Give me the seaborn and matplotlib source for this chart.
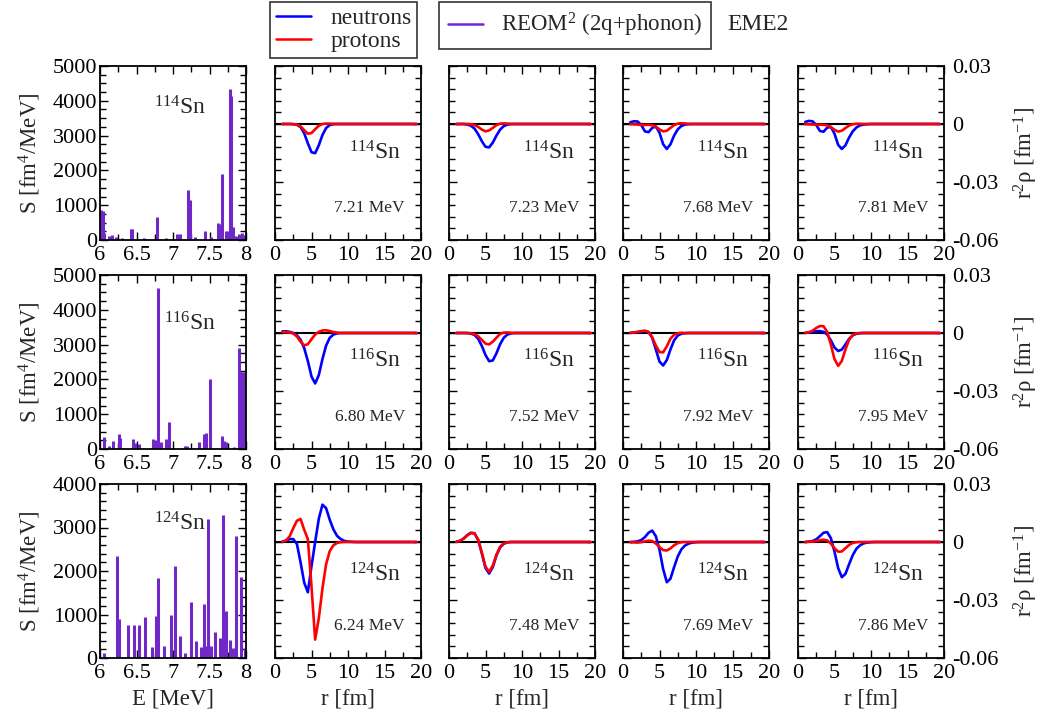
import numpy as np
import matplotlib
matplotlib.use("Agg")
import matplotlib.pyplot as plt
from matplotlib.ticker import MultipleLocator
from matplotlib.lines import Line2D
import seaborn as sns

sns.set_theme(style="ticks")
plt.rcParams['font.family'] = ['Liberation Serif', 'DejaVu Serif']
plt.rcParams['mathtext.fontset'] = 'custom'
plt.rcParams['mathtext.rm'] = 'Liberation Serif'
plt.rcParams['mathtext.it'] = 'Liberation Serif:italic'
plt.rcParams['mathtext.bf'] = 'Liberation Serif:bold'

# ---------------- data ----------------
nuclei = ["114", "116", "124"]
spec_ymax = [5000, 5000, 4000]
spec_yminor = [250, 250, 200]

# strength spectra (E in MeV, S in fm^4/MeV)
E_114 = [6.02, 6.04, 6.06, 6.12, 6.17, 6.22, 6.30, 6.42, 6.44, 6.60, 6.78, 6.90, 7.06, 7.09,
         7.20, 7.23, 7.30, 7.44, 7.52, 7.61, 7.63, 7.67, 7.72, 7.75, 7.785, 7.80, 7.82, 7.86,
         7.90, 7.94, 7.97]
S_114 = [850, 820, 200, 120, 150, 80, 60, 320, 320, 50, 650, 60, 170, 160,
         1450, 1150, 80, 250, 100, 480, 450, 1900, 270, 250, 4350, 4150, 370, 120,
         170, 200, 150]
E_116 = [6.06, 6.12, 6.18, 6.26, 6.28, 6.45, 6.48, 6.54, 6.73, 6.75, 6.79, 6.84, 6.90, 6.94,
         7.16, 7.19, 7.35, 7.43, 7.45, 7.51, 7.67, 7.70, 7.72, 7.84, 7.905, 7.93, 7.95, 7.97]
S_116 = [340, 80, 240, 430, 330, 290, 180, 150, 290, 250, 4640, 190, 290, 770,
         100, 80, 190, 430, 470, 2020, 365, 220, 200, 60, 2890, 2200, 2210, 2200]
E_124 = [6.06, 6.23, 6.26, 6.38, 6.46, 6.54, 6.62, 6.71, 6.77, 6.79, 6.88, 6.97, 7.03, 7.10,
         7.17, 7.24, 7.31, 7.38, 7.42, 7.45, 7.48, 7.52, 7.58, 7.65, 7.69, 7.73, 7.78, 7.82,
         7.86, 7.93, 7.99]
S_124 = [115, 2350, 900, 770, 750, 750, 940, 250, 960, 1830, 270, 1000, 2110, 500,
         115, 1280, 385, 250, 1250, 270, 3190, 270, 600, 460, 3290, 1080, 420, 230,
         2800, 1860, 230]
spectra = [(E_114, S_114), (E_116, S_116), (E_124, S_124)]

# transition densities r^2 rho (units 1e-3 fm^-1) on radial grid (fm)
r_grid = [1.0, 1.5, 2.0, 2.5, 3.0, 3.5, 4.0, 4.5, 5.0, 5.5, 6.0, 6.5, 7.0, 7.5, 8.0, 8.5,
          9.0, 9.5, 10.0, 10.5, 11.0, 19.4]

energies = [["7.21", "7.23", "7.68", "7.81"],
            ["6.80", "7.52", "7.92", "7.95"],
            ["6.24", "7.48", "7.69", "7.86"]]

n_114_721 = [0, 0, 0, -0.1, -0.4, -1.6, -4.8, -10.0, -14.6, -15.1, -11.0, -5.7, -2.1, -0.5, -0.1, 0, 0, 0, 0, 0, 0, 0]
p_114_721 = [0, 0, 0, -0.05, -0.3, -1.2, -3.2, -5.0, -4.7, -2.7, -0.9, 0.0, 0.2, 0.2, 0.1, 0, 0, 0, 0, 0, 0, 0]
n_114_723 = [0, 0, 0, -0.25, -0.9, -2.4, -5.3, -8.9, -11.8, -12.1, -9.6, -6.0, -2.9, -1.1, -0.3, -0.1, 0, 0, 0, 0, 0, 0]
p_114_723 = [0, 0, 0, 0, -0.1, -0.5, -1.5, -2.9, -3.8, -3.3, -2.0, -0.6, 0.2, 0.3, 0.2, 0.1, 0, 0, 0, 0, 0, 0]
n_114_768 = [0.9, 1.4, 1.3, -0.5, -3.8, -4.2, -2.0, -1.3, -4.5, -10.5, -12.9, -10.5, -6.0, -2.8, -1.0, -0.3, -0.1, 0, 0, 0, 0, 0]
p_114_768 = [-0.1, -0.2, -0.3, -0.5, -0.5, -0.4, -0.6, -1.4, -2.8, -3.8, -3.5, -2.0, -0.6, 0.2, 0.4, 0.3, 0.1, 0, 0, 0, 0, 0]
n_114_781 = [1.1, 1.6, 1.4, -0.5, -3.6, -4.0, -1.9, -1.5, -5.0, -10.8, -12.9, -11.0, -7.0, -3.8, -1.8, -0.7, -0.3, -0.1, 0, 0, 0, 0]
p_114_781 = [-0.1, -0.2, -0.3, -0.4, -0.4, -0.4, -0.7, -1.6, -3.0, -3.9, -3.5, -2.1, -0.8, -0.1, 0.1, 0.1, 0, 0, 0, 0, 0, 0]

n_116_680 = [0.8, 0.9, 0.6, 0, -1.2, -3.5, -7.8, -14.5, -22.5, -26.1, -21.8, -13.5, -6.5, -2.5, -0.8, -0.2, 0, 0, 0, 0, 0, 0]
p_116_680 = [0.5, 0.5, 0.3, -0.3, -1.8, -4.5, -6.4, -5.8, -3.2, -0.8, 0.6, 1.3, 1.4, 1.0, 0.5, 0.2, 0, 0, 0, 0, 0, 0]
n_116_752 = [0, 0, 0, -0.05, -0.3, -1.0, -3.0, -6.7, -11.4, -14.6, -14.2, -10.5, -5.8, -2.5, -0.8, -0.2, 0, 0, 0, 0, 0, 0]
p_116_752 = [0, 0, 0, 0, -0.1, -0.6, -1.7, -3.6, -5.5, -5.9, -4.5, -2.4, -0.5, 0.2, 0.3, 0.1, 0, 0, 0, 0, 0, 0]
n_116_792 = [0.1, 0.2, 0.4, 0.7, 0.9, 0.5, -2.5, -8.5, -14.8, -16.8, -14.0, -8.5, -3.8, -1.3, -0.4, -0.1, 0, 0, 0, 0, 0, 0]
p_116_792 = [0.1, 0.3, 0.6, 1.0, 1.2, 0.6, -2.2, -6.5, -9.9, -10.0, -6.9, -3.0, -0.9, -0.1, 0.1, 0, 0, 0, 0, 0, 0, 0]
n_116_795 = [0.1, 0.3, 0.6, 0.9, 1.0, 0.6, -0.8, -3.8, -7.5, -9.3, -8.6, -5.9, -3.0, -1.2, -0.4, -0.1, 0, 0, 0, 0, 0, 0]
p_116_795 = [0.1, 0.4, 1.2, 2.6, 3.6, 3.5, 0.5, -6.0, -13.5, -17.0, -14.5, -8.5, -3.5, -1.0, -0.2, 0, 0, 0, 0, 0, 0, 0]

n_124_624 = [0.1, 0.6, 1.5, 1.5, -1.0, -10.5, -21.0, -26.0, -12.5, 0.0, 12.0, 19.3, 17.5, 11.5, 6.5, 3.2, 1.5, 0.6, 0.2, 0.1, 0, 0]
p_124_624 = [0.2, 0.8, 2.9, 7.1, 11.0, 11.9, 6.3, 1.5, -23.0, -50.5, -39.5, -24.0, -11.5, -4.7, -1.7, -0.5, -0.1, 0, 0, 0, 0, 0]
n_124_748 = [0.1, 0.6, 1.8, 3.6, 4.8, 4.5, 1.0, -6.0, -13.5, -16.3, -13.0, -7.0, -2.8, -0.9, -0.2, 0, 0, 0, 0, 0, 0, 0]
p_124_748 = [0.1, 0.6, 1.7, 3.4, 4.6, 4.4, 1.2, -5.5, -12.8, -15.4, -12.2, -6.5, -2.5, -0.7, -0.1, 0, 0, 0, 0, 0, 0, 0]
n_124_769 = [0, 0.1, 0.3, 1.0, 2.5, 4.8, 5.9, 3.0, -4.0, -14.0, -20.8, -19.0, -13.0, -7.5, -3.8, -1.8, -0.8, -0.3, -0.1, 0, 0, 0]
p_124_769 = [-0.1, -0.2, -0.3, -0.1, 0.3, 0.7, 0.5, -0.8, -2.6, -4.2, -4.4, -3.3, -1.7, -0.6, -0.1, 0, 0, 0, 0, 0, 0, 0]
n_124_786 = [0, 0.2, 0.5, 1.4, 3.0, 4.8, 5.1, 2.0, -5.0, -13.5, -18.2, -16.5, -11.5, -6.8, -3.5, -1.7, -0.7, -0.3, -0.1, 0, 0, 0]
p_124_786 = [0, 0.1, 0.2, 0.5, 0.9, 1.2, 0.8, -0.8, -3.2, -5.0, -4.9, -3.2, -1.5, -0.5, -0.1, 0, 0, 0, 0, 0, 0, 0]

densities = [
    [(n_114_721, p_114_721), (n_114_723, p_114_723), (n_114_768, p_114_768), (n_114_781, p_114_781)],
    [(n_116_680, p_116_680), (n_116_752, p_116_752), (n_116_792, p_116_792), (n_116_795, p_116_795)],
    [(n_124_624, p_124_624), (n_124_748, p_124_748), (n_124_769, p_124_769), (n_124_786, p_124_786)],
]

# ---------------- layout ----------------
W, H = 1043, 717
fig = plt.figure(figsize=(W / 100, H / 100), dpi=100)
col_left = [100, 275, 449, 623, 798]
col_w = 146
row_top = [66, 275, 484]
row_h = 174

PURPLE = "#7028c8"
FS_TICK = 16
FS_LAB = 16.5

def make_ax(ci, ri):
    l = col_left[ci] / W
    b = 1 - (row_top[ri] + row_h) / H
    return fig.add_axes([l, b, col_w / W, row_h / H])

def style_ax(ax):
    ax.set_facecolor("white")
    for s in ax.spines.values():
        s.set_linewidth(1.3)
        s.set_color("black")
    ax.tick_params(which="both", direction="in", top=True, right=True,
                   colors="black", width=1.0, labelsize=FS_TICK, pad=4)
    ax.tick_params(which="major", length=6)
    ax.tick_params(which="minor", length=4)
    ax.grid(False)

for ri in range(3):
    # spectrum panel
    ax = make_ax(0, ri)
    E, S = spectra[ri]
    ax.vlines(E, 0, S, color=PURPLE, lw=2.2)
    ax.set_xlim(6, 8)
    ax.set_ylim(0, spec_ymax[ri])
    ax.set_xticks([6, 6.5, 7, 7.5, 8])
    ax.set_xticklabels(["6", "6.5", "7", "7.5", "8"])
    ax.xaxis.set_minor_locator(MultipleLocator(0.25))
    ax.set_yticks(np.arange(0, spec_ymax[ri] + 1, 1000))
    ax.yaxis.set_minor_locator(MultipleLocator(spec_yminor[ri]))
    style_ax(ax)
    ax.tick_params(axis="y", pad=2)
    sx = [0.55, 0.62, 0.55][ri]
    sy = [0.72, 0.68, 0.73][ri]
    ax.text(sx, sy, r"$^{%s}$Sn" % nuclei[ri], transform=ax.transAxes,
            ha="center", va="baseline", fontsize=17)
    if ri == 2:
        ax.set_xlabel("E [MeV]", fontsize=FS_LAB, labelpad=4)

    # density panels
    for ci in range(4):
        ax = make_ax(ci + 1, ri)
        n_vals, p_vals = densities[ri][ci]
        assert len(n_vals) == len(r_grid) and len(p_vals) == len(r_grid)
        ax.axhline(0, color="black", lw=1.5, zorder=1)
        sns.lineplot(x=r_grid, y=np.array(n_vals) * 1e-3, ax=ax, color="#0000ff",
                     lw=1.9, estimator=None, sort=False, zorder=2)
        sns.lineplot(x=r_grid, y=np.array(p_vals) * 1e-3, ax=ax, color="#ff0000",
                     lw=1.9, estimator=None, sort=False, zorder=3)
        ax.set_xlim(0, 20)
        ax.set_ylim(-0.06, 0.03)
        ax.set_xticks([0, 5, 10, 15, 20])
        ax.xaxis.set_minor_locator(MultipleLocator(2.5))
        ax.set_yticks([-0.06, -0.03, 0, 0.03])
        ax.yaxis.set_minor_locator(MultipleLocator(0.006))
        style_ax(ax)
        ax.set_ylabel("")
        if ci == 3:
            ax.tick_params(axis="y", labelleft=False, labelright=True, pad=6)
            ax.set_yticklabels(["-0.06", "-0.03", "0", "0.03"])
        else:
            ax.tick_params(axis="y", labelleft=False)
        ax.text(0.685, [0.46, 0.47, 0.44][ri], r"$^{%s}$Sn" % nuclei[ri],
                transform=ax.transAxes, ha="center", va="baseline", fontsize=17)
        ax.text(0.89, 0.16, "%s MeV" % energies[ri][ci], transform=ax.transAxes,
                ha="right", va="baseline", fontsize=12.5)
        if ri == 2:
            ax.set_xlabel("r [fm]", fontsize=FS_LAB, labelpad=4)
        else:
            ax.set_xlabel("")

    # side labels
    yc = 1 - (row_top[ri] + row_h / 2) / H
    fig.text(30 / W, yc, r"S [fm$^{4}$/MeV]", rotation=90, ha="center", va="center",
             fontsize=FS_LAB)
    fig.text(1026 / W, yc, r"r$^{2}$ρ [fm$^{-1}$]", rotation=90, ha="center", va="center",
             fontsize=FS_LAB)

# legends
h1 = [Line2D([], [], color="#0000ff", lw=1.8), Line2D([], [], color="#ff0000", lw=1.8)]
leg1 = fig.legend(h1, ["neutrons", "protons"], loc="upper left",
                  bbox_to_anchor=(270 / W, 1 - 2 / H), fontsize=17, frameon=True,
                  fancybox=False, edgecolor="black", handlelength=1.5,
                  handletextpad=0.8, labelspacing=0.05, borderpad=0.25,
                  borderaxespad=0)
leg1.get_frame().set_linewidth(1.2)
h2 = [Line2D([], [], color=PURPLE, lw=1.8)]
leg2 = fig.legend(h2, [r"REOM$^{2}$ (2q+phonon)"], loc="upper left",
                  bbox_to_anchor=(439 / W, 1 - 2 / H), fontsize=16.5, frameon=True,
                  fancybox=False, edgecolor="black", handlelength=1.5,
                  handletextpad=0.8, borderpad=0.4, borderaxespad=0)
leg2.get_frame().set_linewidth(1.2)
fig.text(727 / W, 1 - 25 / H, "EME2", ha="left", va="center", fontsize=17)

fig.savefig("out.png", dpi=100, facecolor="white")
